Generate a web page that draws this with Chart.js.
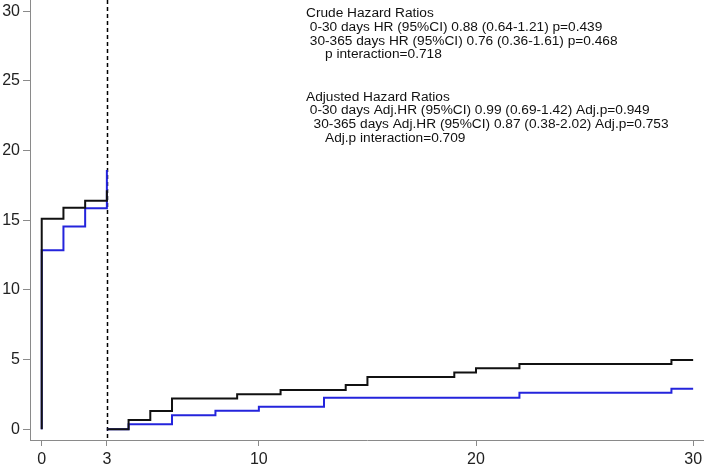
<!DOCTYPE html>
<html>
<head>
<meta charset="utf-8">
<script src="https://cdn.jsdelivr.net/npm/chart.js@4"></script>
<style>
html, body { margin: 0; padding: 0; background: #fff; }
canvas { display: block; }
</style>
</head>
<body>
<canvas id="hazard" width="704" height="468"></canvas>
<script>
// axis ticks
const xTicks = [0, 3, 10, 20, 30];
const yTicks = [0, 5, 10, 15, 20, 25, 30];
const landmarkDay = 3;

// 0-30 days part
const earlyTimes = [0, 0, 1, 2, 3];
const blackEarly = [0, 15.1, 15.9, 16.4, 17.15];
const blueEarly = [0, 12.85, 14.55, 15.85, 18.6];

// 30-365 days part
const blackLateTimes = [3, 4, 5, 6, 9, 11, 14, 15, 19, 20, 22, 29, 30];
const blackLate = [0, 0.67, 1.31, 2.2, 2.51, 2.82, 3.18, 3.75, 4.08, 4.37, 4.68, 4.97, 4.97];
const blueLateTimes = [3, 4, 6, 8, 10, 13, 22, 29, 30];
const blueLate = [0, 0.36, 1.0, 1.33, 1.62, 2.27, 2.62, 2.91, 2.91];

const crudeLines = [
    'Crude Hazard Ratios',
    ' 0-30 days HR (95%CI) 0.88 (0.64-1.21) p=0.439',
    ' 30-365 days HR (95%CI) 0.76 (0.36-1.61) p=0.468',
    '     p interaction=0.718',
];
const adjustedLines = [
    'Adjusted Hazard Ratios',
    ' 0-30 days Adj.HR (95%CI) 0.99 (0.69-1.42) Adj.p=0.949',
    '  30-365 days Adj.HR (95%CI) 0.87 (0.38-2.02) Adj.p=0.753',
    '     Adj.p interaction=0.709',
];

const FONT = "'Liberation Sans', Arial, sans-serif";
const BLACK = '#111111';
const BLUE = '#2424dc';
const AXIS = '#8a8a8a';

function zip(xs, ys) {
    return xs.map((x, i) => ({x: x, y: ys[i]}));
}

function stepSet(points, color) {
    return {
        data: points,
        borderColor: color,
        borderWidth: 2,
        pointRadius: 0,
        stepped: true,
        fill: false,
    };
}

function noPadding(scale) {
    scale.paddingTop = 0;
    scale.paddingBottom = 0;
    scale.paddingLeft = 0;
    scale.paddingRight = 0;
}

const overlay = {
    id: 'overlay',
    beforeDatasetsDraw(chart) {
        const {ctx, chartArea, scales} = chart;
        const px = Math.round(scales.x.getPixelForValue(landmarkDay)) + 0.5;
        ctx.save();
        ctx.strokeStyle = '#000';
        ctx.lineWidth = 1.5;
        ctx.setLineDash([4, 3]);
        ctx.beginPath();
        ctx.moveTo(px, chartArea.top);
        ctx.lineTo(px, chartArea.bottom);
        ctx.stroke();
        ctx.restore();
    },
    afterDraw(chart) {
        const ctx = chart.ctx;
        ctx.save();
        ctx.fillStyle = BLACK;
        ctx.font = '13.7px ' + FONT;
        ctx.textBaseline = 'middle';
        ctx.textAlign = 'left';
        crudeLines.forEach((t, i) => ctx.fillText(t, 306, 13.5 + i * 13.7));
        adjustedLines.forEach((t, i) => ctx.fillText(t, 306, 97 + i * 13.6));
        ctx.restore();
    }
};

new Chart(document.getElementById('hazard'), {
    type: 'line',
    data: {
        datasets: [
            stepSet(zip(earlyTimes, blackEarly), BLACK),
            stepSet(zip(blackLateTimes, blackLate), BLACK),
            stepSet(zip(earlyTimes, blueEarly), BLUE),
            stepSet(zip(blueLateTimes, blueLate), BLUE),
        ]
    },
    options: {
        responsive: false,
        animation: false,
        layout: {padding: 0},
        plugins: {
            legend: {display: false},
            tooltip: {enabled: false},
        },
        scales: {
            x: {
                type: 'linear',
                min: -0.54,
                max: 30.5,
                afterBuildTicks: (scale) => { scale.ticks = xTicks.map(v => ({value: v})); },
                afterFit: (scale) => { scale.height = 28; noPadding(scale); },
                grid: {drawOnChartArea: false, color: AXIS, tickLength: 6},
                border: {color: AXIS, width: 1},
                ticks: {font: {family: FONT, size: 16}, color: '#222', padding: 4, maxRotation: 0},
            },
            y: {
                type: 'linear',
                min: -0.77,
                max: 30.8,
                afterBuildTicks: (scale) => { scale.ticks = yTicks.map(v => ({value: v})); },
                afterFit: (scale) => { scale.width = 30; noPadding(scale); },
                grid: {drawOnChartArea: false, color: AXIS, tickLength: 7},
                border: {color: AXIS, width: 1},
                ticks: {font: {family: FONT, size: 16}, color: '#222', padding: 3},
            }
        }
    },
    plugins: [overlay]
});
</script>
</body>
</html>
